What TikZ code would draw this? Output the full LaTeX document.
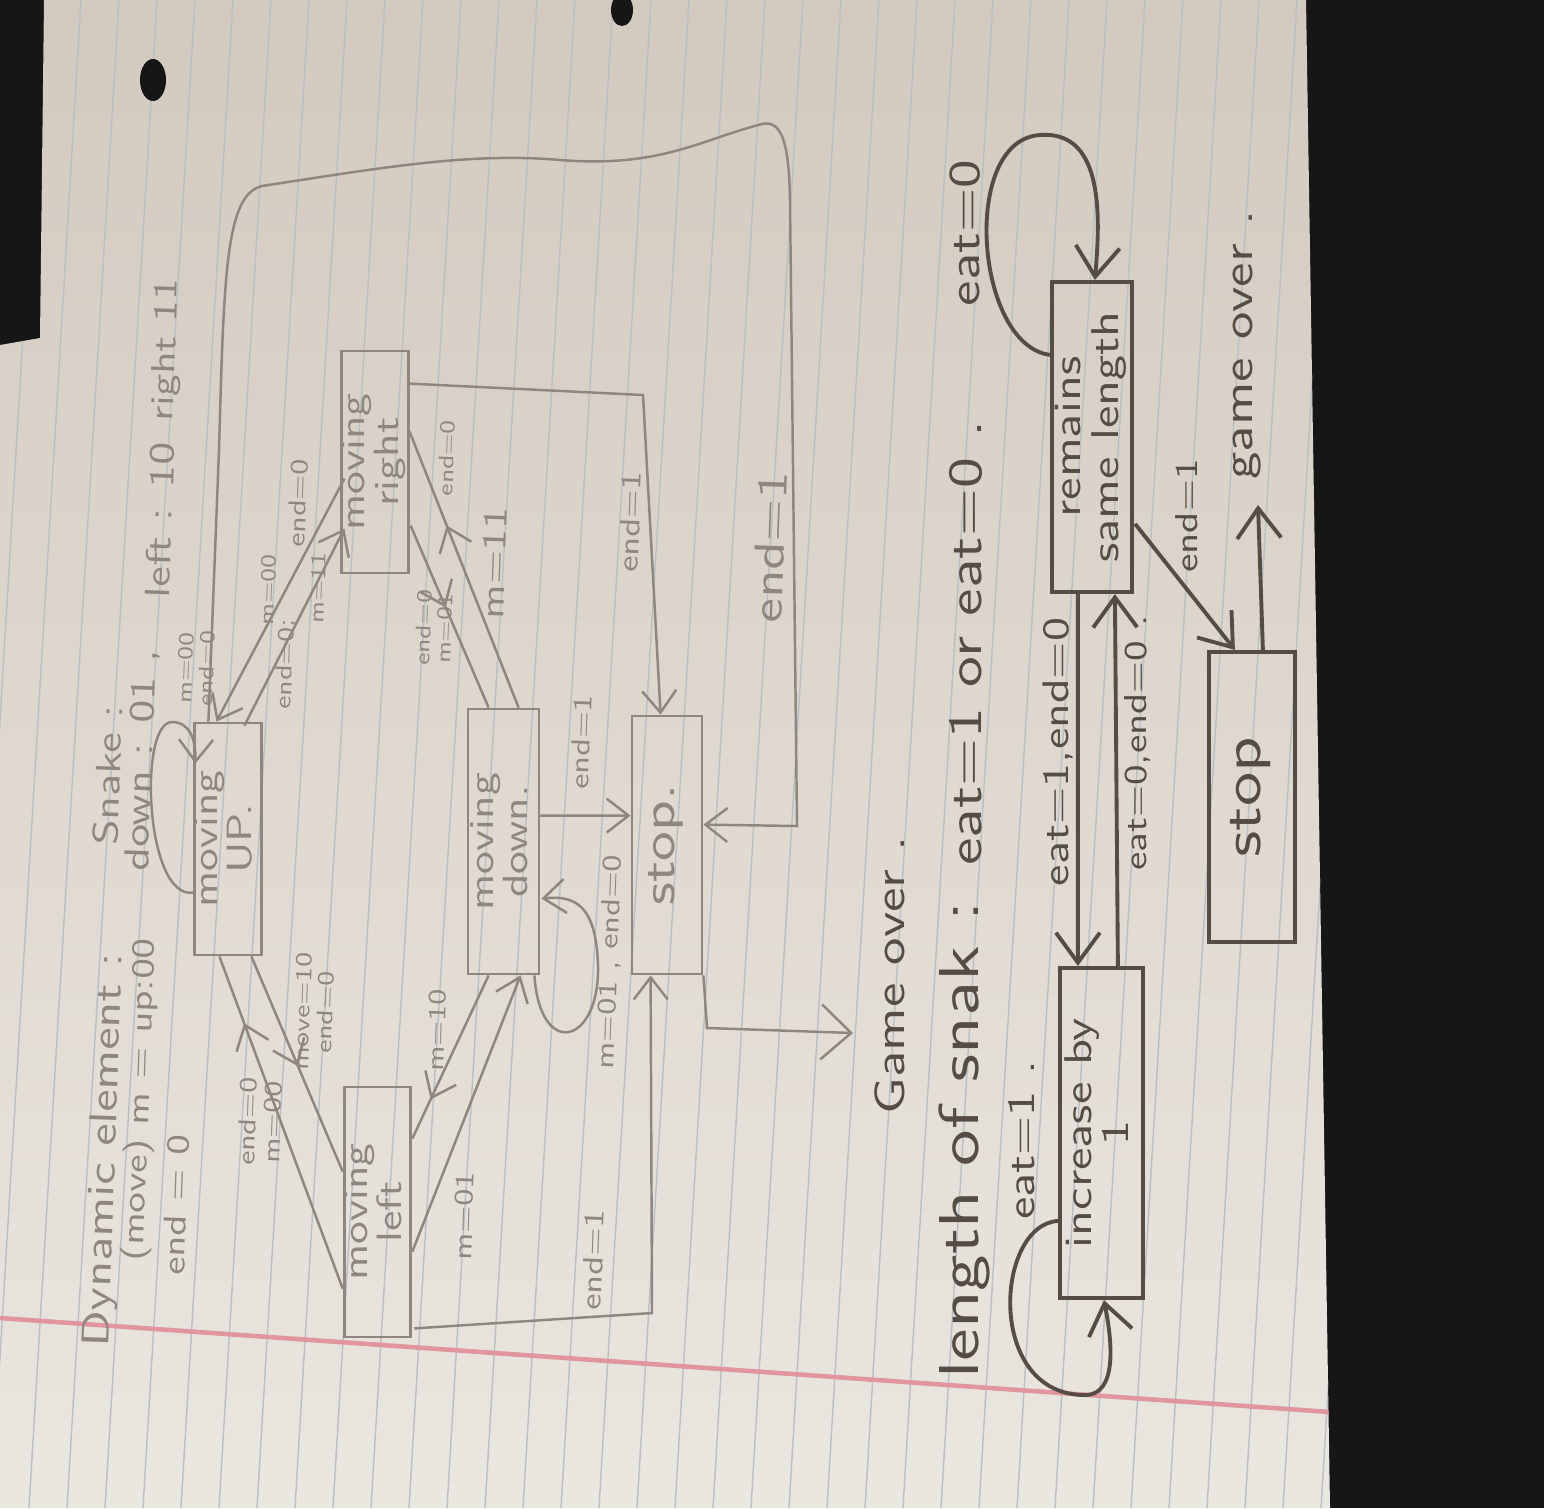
\documentclass[tikz,border=0pt]{standalone}
\usepackage{fontspec}
\usepackage{graphicx}
\usetikzlibrary{arrows.meta,calc,decorations.markings}

\newfontfamily\handfont{lmsans10-regular.otf}[FakeStretch=1.3]

\definecolor{paperA}{HTML}{D3CABF}
\definecolor{paperB}{HTML}{EAE6E0}
\definecolor{pencilA}{HTML}{8E867F}
\definecolor{pencilB}{HTML}{544C45}
\definecolor{ruleline}{HTML}{B9BFC3}
\definecolor{margin}{HTML}{E0959F}
\definecolor{desk}{HTML}{161616}

\renewcommand{\arraystretch}{0.75}
\newcommand{\uptext}[1]{\rotatebox{90}{\begin{tabular}{@{}c@{}}#1\end{tabular}}}

\tikzset{
  state/.style={draw=pencilA, line width=0.8pt, inner sep=0pt, text=pencilA,
    font=\handfont\fontsize{10}{12}\selectfont},
  bstate/.style={draw=pencilB, line width=1.2pt, inner sep=0pt, text=pencilB,
    font=\handfont\fontsize{11}{13}\selectfont},
  trans/.style={draw=pencilA, line width=0.7pt},
  btrans/.style={draw=pencilB, line width=1.1pt, >={Straight Barb[length=3mm,width=4.4mm]}},
  note/.style={text=pencilA, inner sep=0pt, rotate=88, align=center,
    font=\handfont\fontsize{#1}{#1}\selectfont},
  bnote/.style={text=pencilB, inner sep=0pt, rotate=90, align=center,
    font=\handfont\fontsize{#1}{#1}\selectfont},
  midarrow/.style={postaction={decorate},
    decoration={markings, mark=at position #1 with {\arrow{>}}}},
}

\begin{document}
\begin{tikzpicture}[x=0.1mm, y=-0.1mm, >={Straight Barb[length=2.2mm,width=3.4mm]}]
    \useasboundingbox (0,0) rectangle (1544,1508);

    % desk and sheet
    \fill[desk] (0,0) rectangle (1544,1508);
    \shade[top color=paperA, bottom color=paperB] (44,0) -- (1306,0) -- (1330,1508) -- (0,1508) -- (0,345) -- (40,338) -- cycle;
    \begin{scope}
      \clip (44,0) -- (1306,0) -- (1330,1508) -- (0,1508) -- (0,345) -- (40,338) -- cycle;
      \foreach \k in {0,...,37}
        \draw[ruleline, line width=0.4pt] ({5+38*\k},0) -- ({5+38*\k-90},1508);
      \draw[margin, line width=1.3pt] (0,1318) -- (1330,1412);
    \end{scope}
    \fill[desk] (153,80) ellipse [x radius=1.3mm, y radius=2.1mm];
    \fill[desk] (622,10) ellipse [x radius=1.1mm, y radius=1.6mm];

    % heading
    \node[note=11] (t1) at (106,1150) {Dynamic element :};
    \node[note=10] (t2) at (108,775) {Snake :};
    \node[note=9] (t3) at (141,1100) {(move) m = up:00};
    \node[note=10] (t4) at (142,760) {down : 01 ,};
    \node[note=10] (t5) at (160,520) {left : 10};
    \node[note=9.5] (t6) at (167,350) {right 11};
    \node[note=9] (t7) at (176,1205) {end = 0};

    % moving states
    \node[state, minimum width=6.2mm, minimum height=23.2mm] (mu) at (228,839) {\uptext{moving\\UP.}};
    \node[state, minimum width=6.4mm, minimum height=22.2mm] (mr) at (375,462) {\uptext{moving\\right}};
    \node[state, minimum width=6.1mm, minimum height=25mm] (ml) at (377.5,1212) {\uptext{moving\\left}};
    \node[state, minimum width=7.1mm, minimum height=26.5mm] (md) at (503.5,841.5) {\uptext{moving\\down.}};
    \node[state, minimum width=7mm, minimum height=25.8mm, font=\handfont\fontsize{13}{15}\selectfont] (st) at (667,845) {\uptext{stop.}};
    \coordinate (goarr) at (853,1033);

    \draw[trans,->] ($(mr.north west)+(4,129)$) -- ($(mu.north west)+(23,0)$);
    \draw[trans,->] ($(mu.north west)+(51,4)$) -- ($(mr.north west)+(4,179)$);
    \draw[trans,midarrow=0.66] ($(md.north west)+(52,0)$) -- ($(mr.north east)+(0,82)$);
    \draw[trans,midarrow=0.45] ($(mr.north east)+(1,176)$) -- ($(md.north west)+(22,0)$);
    \draw[trans,->] ($(mr.north east)+(0,34)$) -- (643,395) -- ($(st.north west)+(30,0)$);
    \draw[trans,->] ($(md.north east)+(0,108)$) -- ($(st.north west)+(0,101)$);
    \draw[trans,->] ($(md.south east)+(-6,0)$) .. controls (540,1060) and (600,1045) .. (598,965)
      .. controls (596,905) and (575,895) .. ($(md.north east)+(1,191)$);
    \draw[trans,midarrow=0.76] ($(md.south west)+(22,0)$) -- ($(ml.north east)+(0,53)$);
    \draw[trans,->] ($(ml.north east)+(0,166)$) -- ($(md.south west)+(54,0)$);
    \draw[trans,midarrow=0.8] ($(ml.north west)+(0,203)$) -- ($(mu.south west)+(26,0)$);
    \draw[trans,midarrow=0.51] ($(mu.south west)+(58,0)$) -- ($(ml.north west)+(0,86)$);
    \draw[trans,->] ($(ml.south east)+(2,-10)$) -- (652,1313) -- ($(st.south west)+(20,0)$);
    \draw[trans,->,>={Straight Barb[length=3mm,width=5.5mm]}] (st.south east) -- (707,1028) -- (goarr);
    \draw[trans,->] ($(mu.north west)+(0,171)$) .. controls (145,900) and (138,722) .. (172,722)
      .. controls (190,722) and (196,740) .. ($(mu.north west)+(2,42)$);
    \draw[trans,->] ($(mu.north west)+(15,0)$) -- (219,450) .. controls (224,270) and (226,195) .. (262,186)
      .. controls (380,168) and (470,152) .. (560,160) .. controls (660,168) and (700,140) .. (762,124)
      .. controls (784,119) and (789,150) .. (790,200) -- (797,826) -- ($(st.north east)+(0,110)$);

    \node[note=6] (lmu) at (196,668) {m=00\\end=0};
    \node[note=6] (lu1a) at (268,590) {m=00};
    \node[note=7] (lu1b) at (298,503) {end=0};
    \node[note=6.5] (lu2a) at (286,664) {end=0;};
    \node[note=6] (lu2b) at (318,588) {m=11};
    \node[note=6] (lr1a) at (447,458) {end=0};
    \node[note=9.5] (lr1b) at (494,563) {m=11};
    \node[note=6] (lr2) at (434,628) {end=0\\m=01};
    \node[note=8] (lmst) at (630,522) {end=1};
    \node[note=12] (lout) at (770,547) {end=1};
    \node[note=7.5] (lmdst) at (581,742) {end=1};
    \node[note=7.5] (lloop) at (610,962) {m=01 , end=0};
    \node[note=7] (ld1) at (437,1030) {m=10};
    \node[note=7.5] (ld2) at (464,1216) {m=01};
    \node[note=8] (lmlst) at (593,1260) {end=1};
    \node[note=6.5] (ll2) at (314,1012) {move=10\\end=0};
    \node[note=7] (ll1) at (260,1122) {end=0\\m=00};

    % length of the snake
    \node[bnote=12] (go1) at (890,975) {Game over .};
    \node[bnote=16] (len) at (964,1140) {length of snak :};
    \node[bnote=13.5] (eat) at (966,643) {eat=1 or eat=0 .};

    \node[bstate, minimum width=8.3mm, minimum height=33mm] (inc) at (1101.5,1133) {\uptext{increase by\\1}};
    \node[bstate, minimum width=8mm, minimum height=31mm] (rem) at (1092,437) {\uptext{remains\\same length}};
    \node[bstate, minimum width=8.6mm, minimum height=29mm, font=\handfont\fontsize{15}{17}\selectfont] (st2) at (1252,797) {\uptext{stop}};
    \coordinate (goarr2) at (1258,505);

    \draw[btrans,->] ($(rem.south west)+(28,0)$) -- ($(inc.north west)+(20,0)$);
    \draw[btrans,->] ($(inc.north west)+(60,0)$) -- ($(rem.south west)+(65,0)$);
    \draw[btrans,->] ($(rem.north east)+(1,244)$) -- ($(st2.north west)+(28,0)$);
    \draw[btrans,->] ($(st2.north west)+(56,0)$) -- (goarr2);
    \draw[btrans,->] ($(rem.north west)+(0,75)$) .. controls (975,345) and (960,140) .. (1040,135)
      .. controls (1105,130) and (1100,220) .. ($(rem.north west)+(45,0)$);
    \draw[btrans,->] ($(inc.north west)+(0,255)$) .. controls (995,1225) and (985,1395) .. (1085,1395)
      .. controls (1118,1395) and (1112,1340) .. ($(inc.south west)+(46,0)$);

    \node[bnote=12.5] (le0) at (965,233) {eat=0};
    \node[bnote=11] (le1) at (1022,1140) {eat=1 .};
    \node[bnote=10.5] (l10) at (1058,752) {eat=1,end=0};
    \node[bnote=9] (l00) at (1137,743) {eat=0,end=0 .};
    \node[bnote=9] (lend) at (1187,516) {end=1};
    \node[bnote=12] (go2) at (1247,345) {game over .};
  \end{tikzpicture}
\end{document}
